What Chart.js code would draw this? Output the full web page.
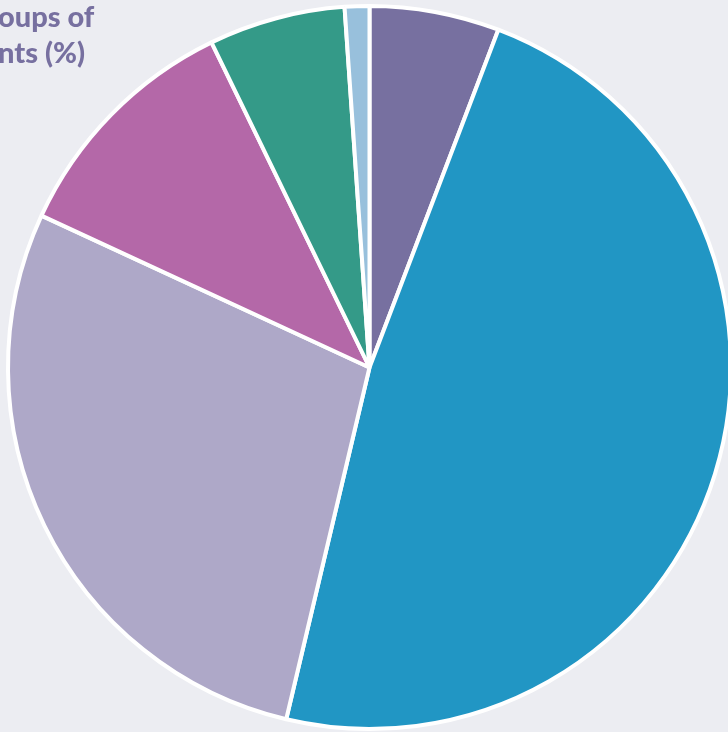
<!DOCTYPE html>
<html>
<head>
<meta charset="utf-8">
<script src="https://cdn.jsdelivr.net/npm/chart.js@4/dist/chart.umd.min.js"></script>
<style>
  html, body { margin: 0; padding: 0; background: #ecedf2; overflow: hidden; width: 728px; height: 732px; }
  #wrap { position: absolute; left: 0; top: 0; width: 740px; height: 740px; }
  #title {
    position: absolute; left: -2px; top: -2px;
    font-family: Lato, "Open Sans", sans-serif; font-weight: 900; font-size: 29px;
    line-height: 36px; color: #7770a0; white-space: pre;
  }
</style>
</head>
<body>
<div id="wrap"><canvas id="pie" width="740" height="740"></canvas></div>
<div id="title">oups of
nts (%)</div>
<script>
// slices clockwise from 12 o'clock
const categories = ['Group 1', 'Group 2', 'Group 3', 'Group 4', 'Group 5', 'Group 6'];
const shares = [5.8, 47.9, 28.2, 10.9, 6.1, 1.1];
const sliceColors = ['#7770a0', '#2196c4', '#aea8c8', '#b468a8', '#349a88', '#98c0dc'];

const ctx = document.getElementById('pie').getContext('2d');
new Chart(ctx, {
  type: 'pie',
  data: {
    labels: categories,
    datasets: [{
      data: shares,
      backgroundColor: sliceColors,
      borderColor: '#ffffff',
      borderWidth: 4
    }]
  },
  options: {
    responsive: false,
    animation: false,
    layout: { padding: { left: 6, top: 4, right: 7, bottom: 9 } },
    plugins: {
      legend: { display: false },
      tooltip: { enabled: false }
    }
  }
});
</script>
</body>
</html>
